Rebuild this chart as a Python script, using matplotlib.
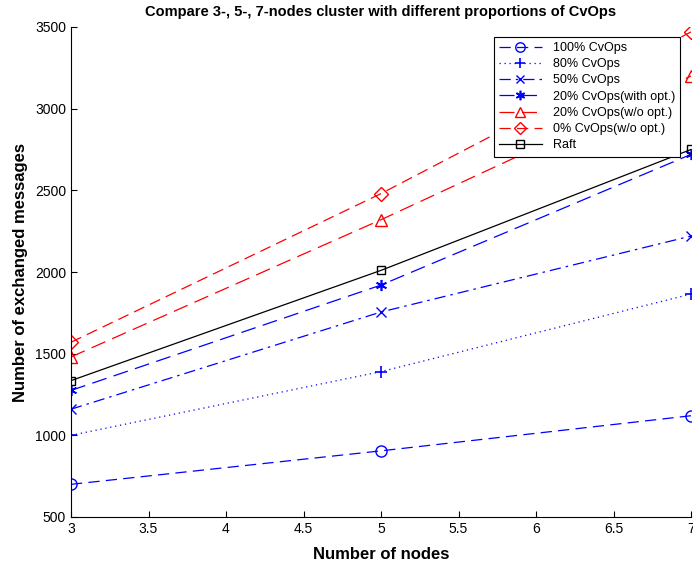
import matplotlib
matplotlib.use("Agg")
import matplotlib.pyplot as plt

plt.rcParams['font.family'] = ['Liberation Sans', 'DejaVu Sans']

nodes = [3, 5, 7]
cv100 = [700, 905, 1120]
cv80 = [1000, 1390, 1865]
cv50 = [1160, 1755, 2220]
cv20_opt = [1275, 1920, 2720]
cv20_noopt = [1480, 2320, 3200]
cv0_noopt = [1570, 2480, 3470]
raft = [1335, 2010, 2750]

labels = ['100% CvOps', '80% CvOps', '50% CvOps', '20% CvOps(with opt.)',
          '20% CvOps(w/o opt.)', '0% CvOps(w/o opt.)', 'Raft']

fig = plt.figure(figsize=(6.93, 5.65), dpi=100)
ax = fig.add_axes([71/693, 1-517/565, 620/693, 490/565])

ax.plot(nodes, cv100, color='blue', linestyle=(0, (9, 5)), lw=0.9, marker='o', ms=8, mfc='none', label=labels[0])
ax.plot(nodes, cv80, color='blue', linestyle=(0, (1, 3)), lw=0.9, marker='+', ms=8, mew=1.2, label=labels[1])
ax.plot(nodes, cv50, color='blue', linestyle=(0, (9, 4, 2, 4)), lw=0.9, marker='x', ms=7, mew=1.0, label=labels[2])
ax.plot(nodes, cv20_opt, color='blue', linestyle=(0, (12, 6)), lw=0.9, marker=(6, 2, 0), ms=8, mew=1.2, label=labels[3])
ax.plot(nodes, cv20_noopt, color='red', linestyle=(0, (12, 6)), lw=0.9, marker='^', ms=9, mfc='none', label=labels[4])
ax.plot(nodes, cv0_noopt, color='red', linestyle=(0, (9, 5)), lw=0.9, marker='D', ms=7, mfc='none', label=labels[5])
ax.plot(nodes, raft, color='black', linestyle='-', lw=0.9, marker='s', ms=6, mfc='none', label=labels[6])

ax.set_xlim(3, 7)
ax.set_ylim(500, 3500)
ax.set_xticks([3, 3.5, 4, 4.5, 5, 5.5, 6, 6.5, 7])
ax.set_xticklabels(['3', '3.5', '4', '4.5', '5', '5.5', '6', '6.5', '7'])
ax.set_yticks(range(500, 3501, 500))
ax.spines['top'].set_visible(False)
ax.spines['right'].set_visible(False)
ax.tick_params(direction='in', labelsize=10, length=4)
ax.set_xlabel('Number of nodes', fontsize=12, fontweight='bold', labelpad=8)
ax.set_ylabel('Number of exchanged messages', fontsize=12, fontweight='bold', labelpad=5)
ax.set_title('Compare 3-, 5-, 7-nodes cluster with different proportions of CvOps', fontsize=10.5, fontweight='bold', pad=8)

leg = ax.legend(loc='upper right', bbox_to_anchor=(680/693, 1-37/565), bbox_transform=fig.transFigure,
                fontsize=9, fancybox=False, edgecolor='black', framealpha=1, markerscale=0.85,
                handlelength=3.4, borderpad=0.4, labelspacing=0.34, handletextpad=0.9, borderaxespad=0)
leg.get_frame().set_linewidth(0.8)

fig.savefig('out.png', dpi=100)
